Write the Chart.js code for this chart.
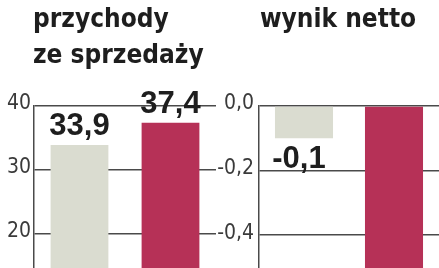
<!DOCTYPE html>
<html>
<head>
<meta charset="utf-8">
<script src="https://cdn.jsdelivr.net/npm/chart.js@4"></script>
<style>
  body { margin: 0; background: #fff; width: 439px; height: 268px; overflow: hidden; position: relative; }
  #lewy { position: absolute; left: 0; top: 0; }
  #prawy { position: absolute; left: 209px; top: 0; }
</style>
</head>
<body>
<canvas id="lewy" width="216" height="268"></canvas>
<canvas id="prawy" width="230" height="268"></canvas>
<script>
// dane
const okresy = ['2007', '2008'];
const przychody = [33.9, 37.4];
const wynikNetto = [-0.1, -0.8];
const ticksPrzychody = [20, 30, 40];
const ticksWynik = [-0.4, -0.2, 0];
const tytulPrzychody = ['przychody', 'ze sprzedaży'];
const tytulWynik = ['wynik netto'];

const kolory = ['#dadcd0', '#b63157'];
const font = '"DejaVu Sans Condensed", "DejaVu Sans", sans-serif';
const fontLiczby = '"Liberation Sans", Arial, sans-serif';

function liczba(v) {
    return v.toFixed(1).replace('.', ',');
}

// tytul i wartosci nad/pod slupkami
const napisy = {
    id: 'napisy',
    afterDatasetsDraw(chart, args, opts) {
        const ctx = chart.ctx;
        const area = chart.chartArea;
        ctx.save();
        ctx.fillStyle = '#1e1e1e';
        ctx.textBaseline = 'alphabetic';
        ctx.textAlign = 'left';
        ctx.font = 'bold 26px ' + font;
        opts.tytul.forEach((linia, i) => ctx.fillText(linia, area.left + opts.tytulDx, 27 + i * 36));

        ctx.font = 'bold 31px ' + fontLiczby;
        ctx.textAlign = 'center';
        const dane = chart.data.datasets[0].data;
        chart.getDatasetMeta(0).data.forEach((bar, i) => {
            const v = dane[i];
            if (v >= 0) {
                ctx.fillText(liczba(v), bar.x, bar.y - 10);
            } else {
                ctx.fillText(liczba(v), bar.x - 5, bar.y + 30);
            }
        });
        ctx.restore();
    }
};

function opcje(min, max, ticki, szerokosc, padding, format, tytul, dx) {
    return {
        responsive: false,
        animation: false,
        layout: { padding: { top: 106, left: 0, right: 0, bottom: 0 } },
        plugins: {
            legend: { display: false },
            tooltip: { enabled: false },
            napisy: { tytul: tytul, tytulDx: dx }
        },
        scales: {
            x: { display: false },
            y: {
                min: min,
                max: max,
                afterBuildTicks(axis) {
                    axis.ticks = ticki.map(v => ({ value: v }));
                },
                afterFit(axis) {
                    axis.width = szerokosc;
                    axis.paddingTop = 0;
                    axis.paddingBottom = 0;
                },
                grid: { color: '#4a4a4a', lineWidth: 1.5, drawTicks: false },
                border: { display: true, color: '#4a4a4a', width: 1.5 },
                ticks: {
                    padding: padding,
                    labelOffset: -2,
                    color: '#3a3a3a',
                    font: { family: font, size: 21 },
                    callback: format
                }
            }
        }
    };
}

new Chart(document.getElementById('lewy'), {
    type: 'bar',
    data: {
        labels: okresy,
        datasets: [{
            data: przychody,
            backgroundColor: kolory,
            borderWidth: 0,
            barPercentage: 0.635,
            categoryPercentage: 1
        }]
    },
    options: opcje(14.69, 40, ticksPrzychody, 34, 3, v => String(v), tytulPrzychody, -1),
    plugins: [napisy]
});

new Chart(document.getElementById('prawy'), {
    type: 'bar',
    data: {
        labels: okresy,
        datasets: [{
            data: wynikNetto,
            backgroundColor: kolory,
            borderWidth: 0,
            barPercentage: 0.645,
            categoryPercentage: 1
        }]
    },
    options: opcje(-0.502, 0, ticksWynik, 50, 5, v => liczba(v), tytulWynik, 1),
    plugins: [napisy]
});
</script>
</body>
</html>
